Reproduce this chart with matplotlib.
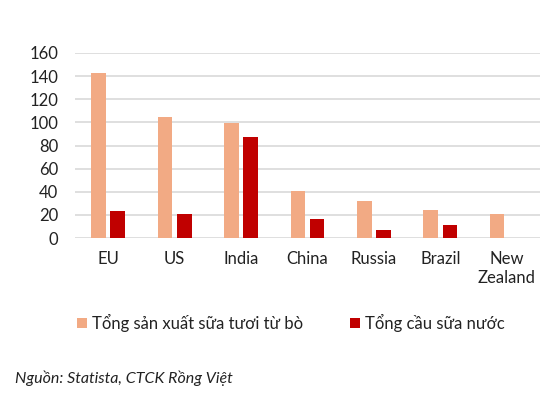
import matplotlib.pyplot as plt
import numpy as np

# data
countries = ["EU", "US", "India", "China", "Russia", "Brazil", "New\nZealand"]
production = [142.5, 104.5, 99.5, 40.5, 32, 24.5, 21]
demand = [23.5, 21, 87.5, 16.5, 6.5, 11, 0]
yticks = [0, 20, 40, 60, 80, 100, 120, 140, 160]

plt.rcParams['font.family'] = ['Lato', 'DejaVu Sans']

fig = plt.figure(figsize=(5.59, 3.97), dpi=100)
ax = fig.add_axes([0.134, 0.4005, 0.832, 0.466])

x = np.arange(len(countries))
w = 0.22
ax.bar(x - 0.145, production, width=w, color="#F2AA84", zorder=3,
       label="Tổng sản xuất sữa tươi từ bò")
ax.bar(x + 0.145, demand, width=w, color="#C00000", zorder=3,
       label="Tổng cầu sữa nước")

ax.set_xlim(-0.5, len(countries) - 0.5)
ax.set_ylim(0, 160)
ax.set_yticks(yticks)
ax.set_xticks(x)
ax.set_xticklabels(countries, fontsize=12, color="#222222", linespacing=1.3)
ax.tick_params(axis='y', labelsize=12, colors="#222222", length=0, pad=12)
ax.tick_params(axis='x', length=0, pad=9)
ax.grid(axis='y', color="#D9D9D9", linewidth=1.2, zorder=0)
for s in ax.spines.values():
    s.set_visible(False)

fig.legend(loc="center", bbox_to_anchor=(0.52, 0.187), ncol=2, frameon=False,
           fontsize=12, handlelength=0.6, handleheight=0.6, handletextpad=0.3,
           columnspacing=2.8, labelcolor="#222222")

fig.text(0.027, 0.035, "Nguồn: Statista, CTCK Rồng Việt", fontsize=11.5,
         style="italic", color="#222222")

fig.savefig("out.png", dpi=100)
